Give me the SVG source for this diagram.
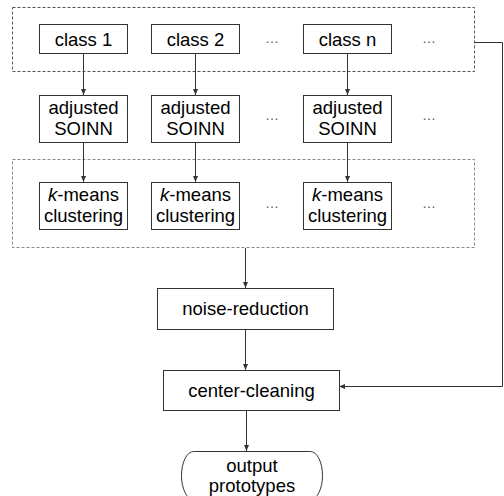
<svg xmlns="http://www.w3.org/2000/svg" width="504" height="496" viewBox="0 0 504 496">
  <defs>
    <marker id="arrow" markerWidth="6" markerHeight="6" refX="6" refY="3" orient="auto" markerUnits="userSpaceOnUse">
      <path d="M0,0.5 L6,3 L0,5.5 Z" fill="#333"/>
    </marker>
    <style>
      .box { fill: #fff; stroke: #333; stroke-width: 1; }
      .group1 { fill: none; stroke: #555; stroke-width: 1; stroke-dasharray: 3 2; }
      .group2 { fill: none; stroke: #888; stroke-width: 1; stroke-dasharray: 3 2; }
      .lbl { font-family: "Liberation Sans", Arial, sans-serif; font-size: 18.5px; fill: #000; text-anchor: middle; }
      .dots { font-family: "Liberation Sans", Arial, sans-serif; font-size: 14px; fill: #555; text-anchor: middle; }
      .edge { fill: none; stroke: #333; stroke-width: 1; marker-end: url(#arrow); }
    </style>
  </defs>
  <rect width="504" height="496" fill="#fff"/>

  <!-- dashed grouping frames -->
  <rect class="group1" x="12.5" y="7.5" width="462" height="64"/>
  <rect class="group2" x="12.5" y="159.5" width="462" height="88"/>

  <!-- connectors -->
  <g id="connectors">
    <line class="edge" x1="83.5" y1="53" x2="83.5" y2="95"/>
    <line class="edge" x1="195.5" y1="53" x2="195.5" y2="95"/>
    <line class="edge" x1="347.5" y1="53" x2="347.5" y2="95"/>
    <line class="edge" x1="83.5" y1="142" x2="83.5" y2="182"/>
    <line class="edge" x1="195.5" y1="142" x2="195.5" y2="182"/>
    <line class="edge" x1="347.5" y1="142" x2="347.5" y2="182"/>
    <line class="edge" x1="245.5" y1="248" x2="245.5" y2="288"/>
    <line class="edge" x1="245.5" y1="329" x2="245.5" y2="370"/>
    <line class="edge" x1="246.5" y1="410" x2="246.5" y2="451"/>
    <polyline class="edge" points="475,42.5 502.5,42.5 502.5,386.5 339,386.5"/>
  </g>

  <!-- class row -->
  <g id="class1"><rect class="box" x="39.5" y="24.5" width="88" height="29"/><text class="lbl" x="83.5" y="46">class 1</text></g>
  <g id="class2"><rect class="box" x="151.5" y="24.5" width="88" height="29"/><text class="lbl" x="195.5" y="46">class 2</text></g>
  <g id="classn"><rect class="box" x="303.5" y="24.5" width="88" height="29"/><text class="lbl" x="347.5" y="46">class n</text></g>
  <text class="dots" x="272" y="43">…</text>
  <text class="dots" x="429" y="43">…</text>

  <!-- adjusted SOINN row -->
  <g id="soinn1"><rect class="box" x="39.5" y="95.5" width="88" height="47"/><text class="lbl" x="83.5" y="114">adjusted</text><text class="lbl" x="83.5" y="135">SOINN</text></g>
  <g id="soinn2"><rect class="box" x="151.5" y="95.5" width="88" height="47"/><text class="lbl" x="195.5" y="114">adjusted</text><text class="lbl" x="195.5" y="135">SOINN</text></g>
  <g id="soinnn"><rect class="box" x="303.5" y="95.5" width="88" height="47"/><text class="lbl" x="347.5" y="114">adjusted</text><text class="lbl" x="347.5" y="135">SOINN</text></g>
  <text class="dots" x="272" y="120">…</text>
  <text class="dots" x="429" y="120">…</text>

  <!-- k-means row -->
  <g id="kmeans1"><rect class="box" x="39.5" y="182.5" width="88" height="47"/><text class="lbl" x="83.5" y="201"><tspan font-style="italic">k</tspan>-means</text><text class="lbl" x="83.5" y="222">clustering</text></g>
  <g id="kmeans2"><rect class="box" x="151.5" y="182.5" width="88" height="47"/><text class="lbl" x="195.5" y="201"><tspan font-style="italic">k</tspan>-means</text><text class="lbl" x="195.5" y="222">clustering</text></g>
  <g id="kmeansn"><rect class="box" x="303.5" y="182.5" width="88" height="47"/><text class="lbl" x="347.5" y="201"><tspan font-style="italic">k</tspan>-means</text><text class="lbl" x="347.5" y="222">clustering</text></g>
  <text class="dots" x="272" y="208">…</text>
  <text class="dots" x="429" y="208">…</text>

  <!-- post-processing -->
  <g id="noise"><rect class="box" x="157.5" y="288.5" width="176" height="41"/><text class="lbl" x="245.5" y="315">noise-reduction</text></g>
  <g id="center"><rect class="box" x="163.5" y="370.5" width="176" height="40"/><text class="lbl" x="251.5" y="397">center-cleaning</text></g>
  <g id="output"><rect class="box" x="181.5" y="451.5" width="141" height="48" rx="12" ry="24"/><text class="lbl" x="252" y="472">output</text><text class="lbl" x="252" y="492">prototypes</text></g>
</svg>
